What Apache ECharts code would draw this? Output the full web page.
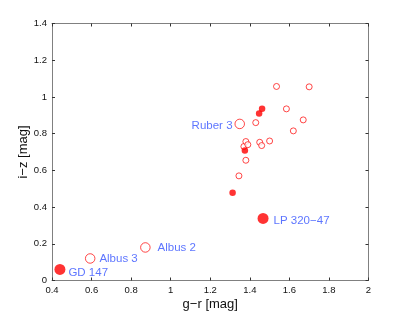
<!DOCTYPE html>
<html><head><meta charset="utf-8">
<script src="https://cdn.jsdelivr.net/npm/echarts@6/dist/echarts.min.js"></script>
<style>html,body{margin:0;padding:0;background:#fff}#c{width:407px;height:317px}</style>
</head><body><div id="c"></div>
<script>
// x: g−r [mag], y: i−z [mag]
const openSmallX = [1.345, 1.38, 1.37, 1.38, 1.39, 1.45, 1.46, 1.50, 1.43, 1.535, 1.70, 1.585, 1.67, 1.62];
const openSmallY = [0.57, 0.655, 0.73, 0.757, 0.74, 0.753, 0.735, 0.76, 0.86, 1.057, 1.055, 0.935, 0.875, 0.815];
const filledSmallX = [1.313, 1.375, 1.447, 1.462];
const filledSmallY = [0.478, 0.708, 0.91, 0.935];
const openLargeX = [0.593, 0.872, 1.349];
const openLargeY = [0.12, 0.18, 0.853];
const openLargeNames = ['Albus 3', 'Albus 2', 'Ruber 3'];
const filledLargeX = [0.44, 1.467];
const filledLargeY = [0.06, 0.338];
const filledLargeNames = ['GD 147', 'LP 320\u221247'];
const xTicks = [0.4, 0.6, 0.8, 1, 1.2, 1.4, 1.6, 1.8, 2];
const yTicks = [0, 0.2, 0.4, 0.6, 0.8, 1, 1.2, 1.4];

const FONT = 'Liberation Sans';
const RED = '#ff0000';
const BLUE = '#3552ff';
const labelPos = {
  'Albus 3': {position: 'right', distance: 4, offset: [0, 0]},
  'Albus 2': {position: 'right', distance: 7, offset: [0, 0]},
  'Ruber 3': {position: 'left', distance: 2, offset: [0, 2]},
  'GD 147': {position: 'right', distance: 3, offset: [0, 3]},
  'LP 320\u221247': {position: 'right', distance: 5, offset: [0, 2]}
};
function pts(xs, ys, names) {
  return xs.map((x, i) => {
    const d = {value: [x, ys[i]]};
    if (names) {
      const p = labelPos[names[i]];
      d.name = names[i];
      d.label = {show: true, formatter: names[i], position: p.position, distance: p.distance, offset: p.offset,
        color: BLUE, fontFamily: FONT, fontSize: 11.5};
    }
    return d;
  });
}
const fmt = v => String(+(+v).toFixed(1));
const frame = {show: true, onZero: false, lineStyle: {color: '#808080', width: 1}};
const ticksIn = {show: true, inside: true, length: 3, lineStyle: {color: '#333'}};
const chart = echarts.init(document.getElementById('c'), null, {renderer: 'canvas'});
chart.setOption({
  animation: false,
  backgroundColor: '#fff',
  grid: {left: 52, right: 38.5, top: 23.5, bottom: 36.5, containLabel: false},
  xAxis: [{
    type: 'value', min: xTicks[0], max: xTicks[xTicks.length - 1], interval: 0.2,
    axisLine: frame, axisTick: ticksIn, splitLine: {show: false},
    axisLabel: {formatter: fmt, color: '#111', fontFamily: FONT, fontSize: 9.5, margin: 5},
    name: 'g\u2212r [mag]', nameLocation: 'middle', nameGap: 17, nameMoveOverlap: false,
    nameTextStyle: {color: '#111', fontFamily: FONT, fontSize: 13}
  }, {
    type: 'value', position: 'top', min: xTicks[0], max: xTicks[xTicks.length - 1], interval: 0.2,
    axisLine: frame, axisTick: ticksIn, splitLine: {show: false}, axisLabel: {show: false}
  }],
  yAxis: [{
    type: 'value', min: yTicks[0], max: yTicks[yTicks.length - 1], interval: 0.2,
    axisLine: frame, axisTick: ticksIn, splitLine: {show: false},
    axisLabel: {formatter: fmt, color: '#111', fontFamily: FONT, fontSize: 9.5, margin: 5},
    name: 'i\u2212z [mag]', nameLocation: 'middle', nameGap: 22, nameMoveOverlap: false,
    nameTextStyle: {color: '#111', fontFamily: FONT, fontSize: 13}
  }, {
    type: 'value', position: 'right', min: yTicks[0], max: yTicks[yTicks.length - 1], interval: 0.2,
    axisLine: frame, axisTick: ticksIn, splitLine: {show: false}, axisLabel: {show: false}
  }],
  series: [
    {type: 'scatter', symbol: 'circle', symbolSize: 6, data: pts(openSmallX, openSmallY),
      itemStyle: {color: '#fff', borderColor: RED, borderWidth: 0.9}},
    {type: 'scatter', symbol: 'circle', symbolSize: 6.5, data: pts(filledSmallX, filledSmallY),
      itemStyle: {color: RED, borderColor: RED, borderWidth: 0}},
    {type: 'scatter', symbol: 'circle', symbolSize: 9.5, data: pts(openLargeX, openLargeY, openLargeNames),
      itemStyle: {color: '#fff', borderColor: RED, borderWidth: 0.9}},
    {type: 'scatter', symbol: 'circle', symbolSize: 11, data: pts(filledLargeX, filledLargeY, filledLargeNames),
      itemStyle: {color: RED, borderColor: RED, borderWidth: 0}}
  ]
});
</script></body></html>
